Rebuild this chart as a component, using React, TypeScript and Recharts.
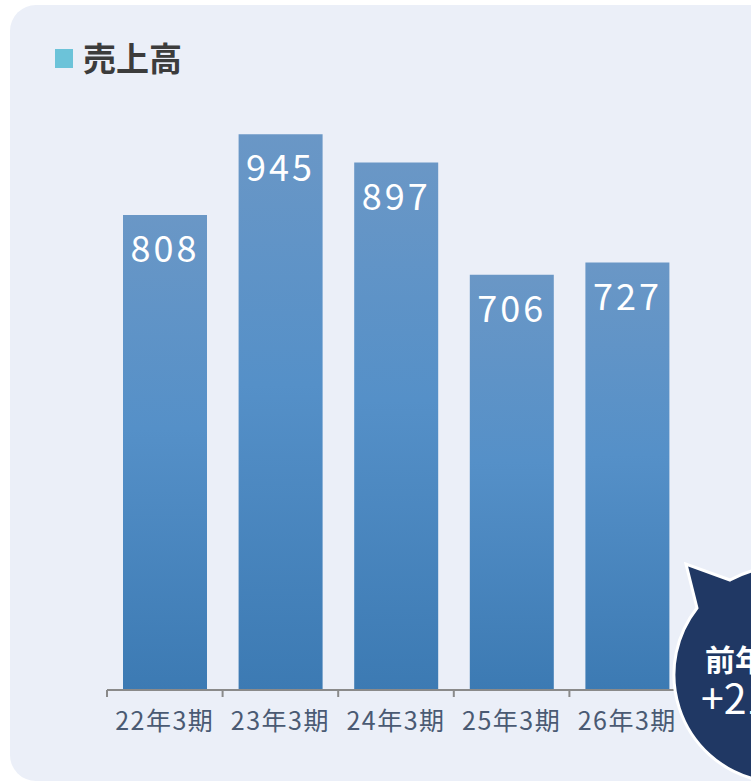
import { BarChart, Bar, XAxis, YAxis, LabelList } from 'recharts'

const PERIODS = ['22年3期', '23年3期', '24年3期', '25年3期', '26年3期']
const SALES = [808, 945, 897, 706, 727]
const TITLE = '売上高'
const BADGE_LINES = ['前年同期比', '+21億円']

const data = PERIODS.map((period, i) => ({ period, sales: SALES[i] }))

const W = 751
const H = 782
const MARGIN = { top: 102, right: 66, left: 107, bottom: 32 }
const AXIS_Y = 690
const BAND = (W - MARGIN.left - MARGIN.right) / PERIODS.length
const FONT = '"Noto Sans CJK JP", "Noto Sans", sans-serif'

// 軸ラベル + 区切りの目盛り（カテゴリ境界）
const PeriodTick = (props: any) => {
  const { x, payload, index } = props
  const left = x - BAND / 2
  return (
    <g>
      <line x1={left} y1={AXIS_Y} x2={left} y2={AXIS_Y + 7} stroke="#8a8a8a" strokeWidth={2} />
      {index === PERIODS.length - 1 && (
        <line x1={left + BAND} y1={AXIS_Y} x2={left + BAND} y2={AXIS_Y + 7} stroke="#8a8a8a" strokeWidth={2} />
      )}
      <text
        x={x}
        y={AXIS_Y + 40}
        textAnchor="middle"
        fill="#4a5a73"
        fontSize={25}
        letterSpacing={1.5}
        fontFamily={FONT}
      >
        {payload.value}
      </text>
    </g>
  )
}

const renderValue = (props: any) => {
  const { x, y, width, value } = props
  return (
    <text
      x={x + width / 2}
      y={y + 47}
      textAnchor="middle"
      fill="#ffffff"
      fontSize={36}
      letterSpacing={3}
      fontFamily={FONT}
    >
      {value}
    </text>
  )
}

export default function App() {
  return (
    <div
      style={{
        position: 'absolute',
        left: 0,
        top: 0,
        width: W,
        height: H,
        overflow: 'hidden',
        background: '#ffffff',
      }}
    >
      <div
        style={{
          position: 'absolute',
          left: 10,
          top: 5,
          width: 800,
          height: 776,
          background: '#ebeff8',
          borderRadius: 26,
        }}
      />
      <div style={{ position: 'absolute', left: 0, top: 0 }}>
        <BarChart width={W} height={H} data={data} margin={MARGIN} barSize={84}>
          <defs>
            <linearGradient id="salesFill" x1="0" y1="0" x2="0" y2="1">
              <stop offset="0%" stopColor="#6a97c6" />
              <stop offset="45%" stopColor="#5590c8" />
              <stop offset="100%" stopColor="#3c7ab3" />
            </linearGradient>
          </defs>
          <XAxis
            dataKey="period"
            height={60}
            axisLine={{ stroke: '#8a8a8a', strokeWidth: 2 }}
            tickLine={false}
            tick={<PeriodTick />}
            interval={0}
          />
          <YAxis hide domain={[0, 1000]} />
          <Bar dataKey="sales" fill="url(#salesFill)" isAnimationActive={false}>
            <LabelList dataKey="sales" content={renderValue} />
          </Bar>
        </BarChart>
      </div>
      <svg
        width={W}
        height={H}
        style={{ position: 'absolute', left: 0, top: 0, pointerEvents: 'none' }}
      >
        <rect x={55} y={49} width={18} height={19} fill="#6cc3d9" />
        <text x={83} y={71} fontSize={33} fontWeight="bold" fill="#3c3c3c" fontFamily={FONT}>
          {TITLE}
        </text>
        <path
          d="M 697 608 L 686 564 L 730 580 A 108 108 0 1 1 697 608 Z"
          fill="#203864"
          stroke="#ffffff"
          strokeWidth={3}
        />
        <text x={705} y={671} fontSize={30} fontWeight="bold" fill="#ffffff" fontFamily={FONT}>
          {BADGE_LINES[0]}
        </text>
        <text x={701} y={714} fontSize={41} fill="#ffffff" fontFamily={FONT}>
          {BADGE_LINES[1]}
        </text>
      </svg>
    </div>
  )
}
